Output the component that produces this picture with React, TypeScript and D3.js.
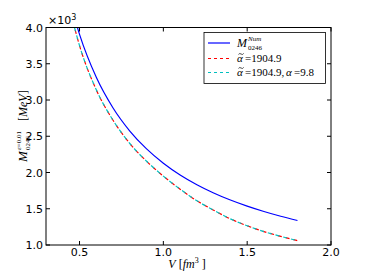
import React from "react";
import * as d3 from "d3";

const V = [0.45, 0.5, 0.6, 0.7, 0.8, 0.9, 1.0, 1.1, 1.2, 1.3, 1.4, 1.5, 1.6, 1.7, 1.8];
const numM = [4.3, 3.905, 3.313, 2.89, 2.572, 2.325, 2.128, 1.966, 1.832, 1.718, 1.62, 1.536, 1.462, 1.396, 1.338];
const alphaTilde = [4.18, 3.75, 3.14, 2.72, 2.4, 2.155, 1.95, 1.77, 1.61, 1.48, 1.36, 1.265, 1.185, 1.12, 1.06];
const alphaBoth = [4.18, 3.75, 3.14, 2.72, 2.4, 2.155, 1.95, 1.77, 1.61, 1.48, 1.36, 1.265, 1.185, 1.12, 1.06];
const xTicks = [0.5, 1.0, 1.5, 2.0];
const yTicks = [1.0, 1.5, 2.0, 2.5, 3.0, 3.5, 4.0];

const W = 367, H = 273;
const L = 46, R = 331, T = 27.5, B = 245;

const serif = "Liberation Serif";
const tickFont = "DejaVu Sans";

function AlphaTilde({ x, y, size }: { x: number; y: number; size: number }) {
  const tx = x + 1.5;
  const ty = y - size * 0.78;
  return (
    <g>
      <text x={x} y={y} fontFamily={serif} fontSize={size} fontStyle="italic">α</text>
      <path
        d={`M${tx},${ty + 1} q1.2,-1.6 2.6,-0.4 q1.4,1.2 2.6,-0.6`}
        fill="none"
        stroke="#000"
        strokeWidth={0.7}
      />
    </g>
  );
}

export default function App() {
  const x = d3.scaleLinear().domain([0.3, 2.0]).range([L, R]);
  const y = d3.scaleLinear().domain([1.0, 4.0]).range([B, T]);
  const line = (vals: number[]) =>
    d3.line<number>().x((_, i) => x(V[i])).y((d) => y(d)).curve(d3.curveMonotoneX)(vals) || "";
  return (
    <svg width={W} height={H} style={{ position: "absolute", left: 0, top: 0 }}>
      <rect x={0} y={0} width={W} height={H} fill="#fff" />
      <defs>
        <clipPath id="clip">
          <rect x={L} y={T} width={R - L} height={B - T} />
        </clipPath>
      </defs>
      <g clipPath="url(#clip)" fill="none">
        <path d={line(numM)} stroke="#0000ff" strokeWidth={1.2} />
        <path d={line(alphaTilde)} stroke="#ff0000" strokeWidth={1.2} strokeDasharray="4,4" />
        <path d={line(alphaBoth)} stroke="#00bfbf" strokeWidth={1.2} strokeDasharray="4,4" strokeDashoffset={2.5} />
      </g>
      <rect x={L} y={T} width={R - L} height={B - T} fill="none" stroke="#000" strokeWidth={1} />
      {xTicks.map((t) => (
        <g key={"x" + t}>
          <line x1={x(t)} x2={x(t)} y1={B} y2={B - 4} stroke="#000" />
          <line x1={x(t)} x2={x(t)} y1={T} y2={T + 4} stroke="#000" />
          <text x={x(t)} y={B + 11} textAnchor="middle" fontFamily={tickFont} fontSize={11}>
            {t.toFixed(1)}
          </text>
        </g>
      ))}
      {yTicks.map((t) => (
        <g key={"y" + t}>
          <line x1={L} x2={L + 4} y1={y(t)} y2={y(t)} stroke="#000" />
          <line x1={R} x2={R - 4} y1={y(t)} y2={y(t)} stroke="#000" />
          <text x={L - 3} y={y(t) + 4} textAnchor="end" fontFamily={tickFont} fontSize={11}>
            {t.toFixed(1)}
          </text>
        </g>
      ))}
      <text x={48} y={24} fontFamily={tickFont} fontSize={11}>
        ×10<tspan dy={-4} fontSize={8}>3</tspan>
      </text>
      <text x={187} y={268} textAnchor="middle" fontFamily={serif} fontSize={12}>
        <tspan fontStyle="italic">V</tspan> [<tspan fontStyle="italic">fm</tspan>
        <tspan dy={-5} fontSize={8}>3</tspan>
        <tspan dy={5}> ]</tspan>
      </text>
      <g transform="translate(27,125) rotate(-90)" fontFamily={serif}>
        <text x={-37} y={0} fontSize={13} fontStyle="italic">M</text>
        <text x={-25} y={-6} fontSize={7}>
          <tspan fontStyle="italic">ε</tspan>=0.01
        </text>
        <text x={-25} y={3} fontSize={7}>0246</text>
        <text x={4} y={0} fontSize={12}>
          [<tspan fontStyle="italic">MeV</tspan>]
        </text>
      </g>
      <g>
        <rect x={204} y={32.5} width={121.5} height={51} fill="#fff" stroke="#000" strokeWidth={0.8} />
        <line x1={208} x2={230} y1={43} y2={43} stroke="#0000ff" strokeWidth={1.2} />
        <line x1={208} x2={230} y1={58.5} y2={58.5} stroke="#ff0000" strokeWidth={1.2} strokeDasharray="3,3" />
        <line x1={208} x2={230} y1={72.5} y2={72.5} stroke="#00bfbf" strokeWidth={1.2} strokeDasharray="3,3" />
        <text x={237} y={47} fontFamily={serif} fontSize={12} fontStyle="italic">M</text>
        <text x={248} y={41} fontFamily={serif} fontSize={7} fontStyle="italic">Num</text>
        <text x={248} y={50} fontFamily={serif} fontSize={7}>0246</text>
        <AlphaTilde x={237} y={62} size={11} />
        <text x={245} y={62} fontFamily={serif} fontSize={11}>=1904.9</text>
        <AlphaTilde x={237} y={76} size={11} />
        <text x={245} y={76} fontFamily={serif} fontSize={11}>=1904.9,</text>
        <text x={286} y={76} fontFamily={serif} fontSize={11} fontStyle="italic">α</text>
        <text x={294} y={76} fontFamily={serif} fontSize={11}>=9.8</text>
      </g>
    </svg>
  );
}
